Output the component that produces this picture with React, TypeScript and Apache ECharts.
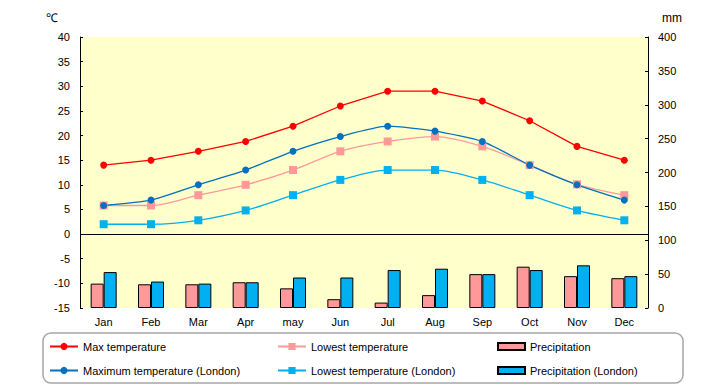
import React, { useEffect, useRef } from "react";
import * as echarts from "echarts";

const categories = ["Jan", "Feb", "Mar", "Apr", "may", "Jun", "Jul", "Aug", "Sep", "Oct", "Nov", "Dec"];
const maxTemp = [14, 15, 16.8, 18.8, 21.9, 26, 29, 29, 27, 23, 17.8, 15];
const lowTemp = [5.8, 5.8, 7.9, 10, 13, 16.8, 18.8, 19.8, 17.8, 14, 10.1, 7.9];
const maxLondon = [5.8, 6.9, 10, 13, 16.8, 19.8, 21.9, 20.9, 18.8, 14, 10, 6.9];
const lowLondon = [2, 2, 2.8, 4.8, 7.9, 11, 13, 13, 11, 7.9, 4.8, 2.8];
const precip = [36, 35, 35, 38, 29, 13, 8, 19, 50, 61, 47, 44];
const precipLondon = [53, 39, 36, 38, 45, 45, 56, 58, 50, 56, 63, 47];

const FONT = "Liberation Sans";

export default function App() {
  const ref = useRef<HTMLDivElement>(null);
  useEffect(() => {
    const chart = echarts.init(ref.current!, null, { renderer: "svg" });
    const textStyle = { fontFamily: FONT, fontSize: 11, color: "#000" };
    const lineLegend = (name: string, left: number, top: number) => ({
      data: [name],
      left,
      top,
      padding: 0,
      itemWidth: 28,
      itemHeight: 9,
      textStyle,
    });
    const barLegend = (name: string, left: number, top: number) => ({
      data: [{ name, icon: "rect" }],
      left,
      top,
      padding: 0,
      itemWidth: 27,
      itemHeight: 7,
      textStyle,
    });
    chart.setOption({
      animation: false,
      textStyle: { fontFamily: FONT },
      grid: {
        left: 80,
        right: 72,
        top: 37,
        bottom: 77,
        show: true,
        backgroundColor: "#FFFFCC",
        borderWidth: 0,
      },
      graphic: [
        {
          type: "rect",
          shape: { x: 43, y: 333, width: 640, height: 50, r: 8 },
          style: { fill: "#fff", stroke: "#a6a6a6", lineWidth: 1.5 },
          z: 0,
        },
        { type: "text", left: 46, top: 12, style: { text: "℃", font: `12px ${FONT}`, fill: "#000" } },
        { type: "text", left: 662, top: 12, style: { text: "mm", font: `12px ${FONT}`, fill: "#000" } },
      ],
      legend: [
        lineLegend("Max temperature", 49, 341),
        lineLegend("Maximum temperature (London)", 49, 365),
        lineLegend("Lowest temperature", 277, 341),
        lineLegend("Lowest temperature (London)", 277, 365),
        barLegend("Precipitation", 497, 341),
        barLegend("Precipitation (London)", 497, 365),
      ],
      xAxis: {
        type: "category",
        data: categories,
        axisLine: { show: false },
        axisTick: { show: false },
        axisLabel: { ...textStyle, margin: 8 },
      },
      yAxis: [
        {
          type: "value",
          min: -15,
          max: 40,
          interval: 5,
          splitLine: { show: false },
          axisLine: { show: true, lineStyle: { color: "#000", width: 1 } },
          axisTick: { show: true, inside: true, length: 3, lineStyle: { color: "#000" } },
          axisLabel: { ...textStyle, margin: 10 },
        },
        {
          type: "value",
          min: 0,
          max: 400,
          interval: 50,
          splitLine: { show: false },
          axisLine: { show: true, lineStyle: { color: "#000", width: 1 } },
          axisTick: { show: true, inside: true, length: 3, lineStyle: { color: "#000" } },
          axisLabel: { ...textStyle, margin: 10 },
        },
      ],
      series: [
        {
          name: "Precipitation",
          type: "bar",
          yAxisIndex: 1,
          data: precip,
          barWidth: 13,
          barGap: "0%",
          itemStyle: { color: "#FF9999", borderColor: "#000", borderWidth: 1 },
        },
        {
          name: "Precipitation (London)",
          type: "bar",
          yAxisIndex: 1,
          data: precipLondon,
          barWidth: 13,
          barGap: "0%",
          itemStyle: { color: "#00B0F0", borderColor: "#000", borderWidth: 1 },
        },
        {
          name: "Lowest temperature (London)",
          type: "line",
          data: lowLondon,
          smooth: 0.3,
          symbol: "rect",
          symbolSize: 8,
          itemStyle: { color: "#00B0F0" },
          lineStyle: { color: "#00B0F0", width: 1.3 },
          markLine: {
            silent: true,
            symbol: "none",
            label: { show: false },
            lineStyle: { color: "#000", type: "solid", width: 1 },
            data: [{ yAxis: 0 }],
          },
        },
        {
          name: "Lowest temperature",
          type: "line",
          data: lowTemp,
          smooth: 0.3,
          symbol: "rect",
          symbolSize: 8,
          itemStyle: { color: "#FF9999" },
          lineStyle: { color: "#FF9999", width: 1.3 },
        },
        {
          name: "Maximum temperature (London)",
          type: "line",
          data: maxLondon,
          smooth: 0.2,
          symbol: "circle",
          symbolSize: 7,
          itemStyle: { color: "#0070C0" },
          lineStyle: { color: "#0070C0", width: 1.3 },
        },
        {
          name: "Max temperature",
          type: "line",
          data: maxTemp,
          symbol: "circle",
          symbolSize: 7,
          itemStyle: { color: "#FF0000" },
          lineStyle: { color: "#FF0000", width: 1.3 },
        },
      ],
    });
    return () => chart.dispose();
  }, []);
  return <div ref={ref} style={{ width: 720, height: 385, position: "absolute", left: 0, top: 0 }} />;
}
